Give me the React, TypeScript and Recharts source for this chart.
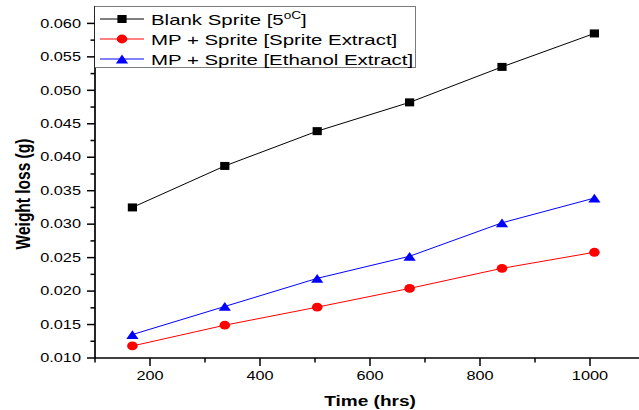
import { LineChart, Line, XAxis, YAxis, Legend } from "recharts";

const time = [168, 336, 504, 672, 840, 1008];
const blankSprite = [0.0325, 0.0387, 0.0439, 0.0482, 0.0535, 0.0585];
const spriteExtract = [0.0118, 0.0149, 0.0176, 0.0204, 0.0234, 0.0258];
const ethanolExtract = [0.0135, 0.0177, 0.0219, 0.0252, 0.0302, 0.0339];

const xTicks = [100, 200, 300, 400, 500, 600, 700, 800, 900, 1000, 1100];
const yTicks = [
  0.01, 0.0125, 0.015, 0.0175, 0.02, 0.0225, 0.025, 0.0275, 0.03, 0.0325, 0.035,
  0.0375, 0.04, 0.0425, 0.045, 0.0475, 0.05, 0.0525, 0.055, 0.0575, 0.06,
];

const data = time.map((t, i) => ({
  time: t,
  blank: blankSprite[i],
  sprite: spriteExtract[i],
  ethanol: ethanolExtract[i],
}));

const font = '"Liberation Sans", Arial, sans-serif';
const SX = 1.36; // the source image is stretched sideways

function YTick({ x, y, payload }: any) {
  const major = Math.round(payload.value * 10000) % 50 === 0;
  return (
    <g>
      <line x1={x - (major ? 8 : 4.5)} x2={x} y1={y} y2={y} stroke="#000" strokeWidth={1.5} />
      {major && (
        <text
          transform={`translate(${x - 14},${y}) scale(${SX},1)`}
          textAnchor="end"
          dominantBaseline="central"
          fontFamily={font}
          fontSize={12}
          fill="#000"
        >
          {payload.value.toFixed(3)}
        </text>
      )}
    </g>
  );
}

function XTick({ x, y, payload }: any) {
  const major = payload.value % 200 === 0;
  return (
    <g>
      <line x1={x} x2={x} y1={y} y2={y + (major ? 8 : 4.5)} stroke="#000" strokeWidth={1.5} />
      {major && (
        <text
          transform={`translate(${x},${y + 18}) scale(${SX},1)`}
          textAnchor="middle"
          dominantBaseline="central"
          fontFamily={font}
          fontSize={12}
          fill="#000"
        >
          {payload.value}
        </text>
      )}
    </g>
  );
}

const Square = ({ cx, cy, s = 1 }: any) => (
  <rect x={cx - 4.6 * s} y={cy - 4 * s} width={9.2 * s} height={8 * s} fill="#000" />
);
const Circle = ({ cx, cy, s = 1 }: any) => (
  <ellipse cx={cx} cy={cy} rx={5.3 * s} ry={4.4 * s} fill="#ff0000" />
);
const Triangle = ({ cx, cy, s = 1 }: any) => (
  <polygon
    points={`${cx - 6.1 * s},${cy + 4.4 * s} ${cx + 6.1 * s},${cy + 4.4 * s} ${cx},${cy - 4.4 * s}`}
    fill="#0000ff"
  />
);

const series = [
  { key: "blank", name: "Blank Sprite [5", sup: "oC", tail: "]", color: "#000000", Mark: Square },
  { key: "sprite", name: "MP + Sprite [Sprite Extract]", color: "#ff0000", Mark: Circle },
  { key: "ethanol", name: "MP + Sprite [Ethanol Extract]", color: "#0000ff", Mark: Triangle },
];

function LegendBox() {
  return (
    <div
      style={{
        boxSizing: "border-box",
        width: 321,
        height: 62,
        border: "1.5px solid #7a7a7a",
        borderLeft: "none",
        background: "#fff",
        fontFamily: font,
        fontSize: 15,
        color: "#000",
        paddingTop: 2,
      }}
    >
      {series.map((s) => (
        <div key={s.key} style={{ height: 20, display: "flex", alignItems: "center" }}>
          <svg width={56} height={20} style={{ flex: "none" }}>
            <line x1={5} x2={49} y1={10} y2={10} stroke={s.color} strokeWidth={1} />
            <s.Mark cx={27} cy={10} />
          </svg>
          <span style={{ display: "inline-block", whiteSpace: "nowrap", transform: `scaleX(${SX})`, transformOrigin: "left center" }}>
            {s.name}
            {s.sup && <sup style={{ fontSize: 10, verticalAlign: "6px", lineHeight: 0 }}>{s.sup}</sup>}
            {s.tail}
          </span>
        </div>
      ))}
    </div>
  );
}

function YLabel({ viewBox }: any) {
  return (
    <text
      transform={`translate(${viewBox.x + 23},${viewBox.y + 188}) scale(${SX},1) rotate(-90)`}
      textAnchor="middle"
      dominantBaseline="central"
      fontFamily={font}
      fontWeight="bold"
      fontSize={15.5}
      fill="#000"
    >
      Weight loss (g)
    </text>
  );
}

function XLabel({ viewBox }: any) {
  return (
    <text
      transform={`translate(${viewBox.x + viewBox.width / 2},${viewBox.y + 43}) scale(${SX},1)`}
      textAnchor="middle"
      dominantBaseline="central"
      fontFamily={font}
      fontWeight="bold"
      fontSize={14}
      fill="#000"
    >
      Time (hrs)
    </text>
  );
}

export default function App() {
  return (
    <div style={{ position: "absolute", left: 0, top: 0, width: 639, height: 410, overflow: "hidden", background: "#fff" }}>
      <LineChart width={650} height={410} data={data} margin={{ top: 6, right: 5, bottom: 0, left: 0 }}>
        <XAxis
          xAxisId="top"
          orientation="top"
          dataKey="time"
          type="number"
          domain={[100, 1100]}
          height={0}
          tick={false}
          tickLine={false}
          axisLine={{ stroke: "#555", strokeWidth: 1.2 }}
        />
        <XAxis
          dataKey="time"
          type="number"
          domain={[100, 1100]}
          ticks={xTicks}
          interval={0}
          height={52}
          tickSize={0}
          tickMargin={0}
          tickLine={false}
          tick={<XTick />}
          axisLine={{ stroke: "#000", strokeWidth: 1.7 }}
          label={<XLabel />}
        />
        <YAxis
          type="number"
          domain={[0.01, 0.0626]}
          allowDataOverflow
          ticks={yTicks}
          interval={0}
          width={95}
          tickSize={0}
          tickMargin={0}
          tickLine={false}
          tick={<YTick />}
          axisLine={{ stroke: "#000", strokeWidth: 1.7 }}
          label={<YLabel />}
        />
        <Legend
          layout="horizontal"
          verticalAlign="middle"
          align="center"
          content={() => <LegendBox />}
          wrapperStyle={{ left: 95, top: 6, width: 321, height: 62 }}
        />
        {series.map((s) => (
          <Line
            key={s.key}
            dataKey={s.key}
            name={s.name}
            stroke={s.color}
            strokeWidth={1}
            isAnimationActive={false}
            dot={(p: any) => <s.Mark key={p.index} cx={p.cx} cy={p.cy} />}
            activeDot={false}
          />
        ))}
      </LineChart>
    </div>
  );
}
